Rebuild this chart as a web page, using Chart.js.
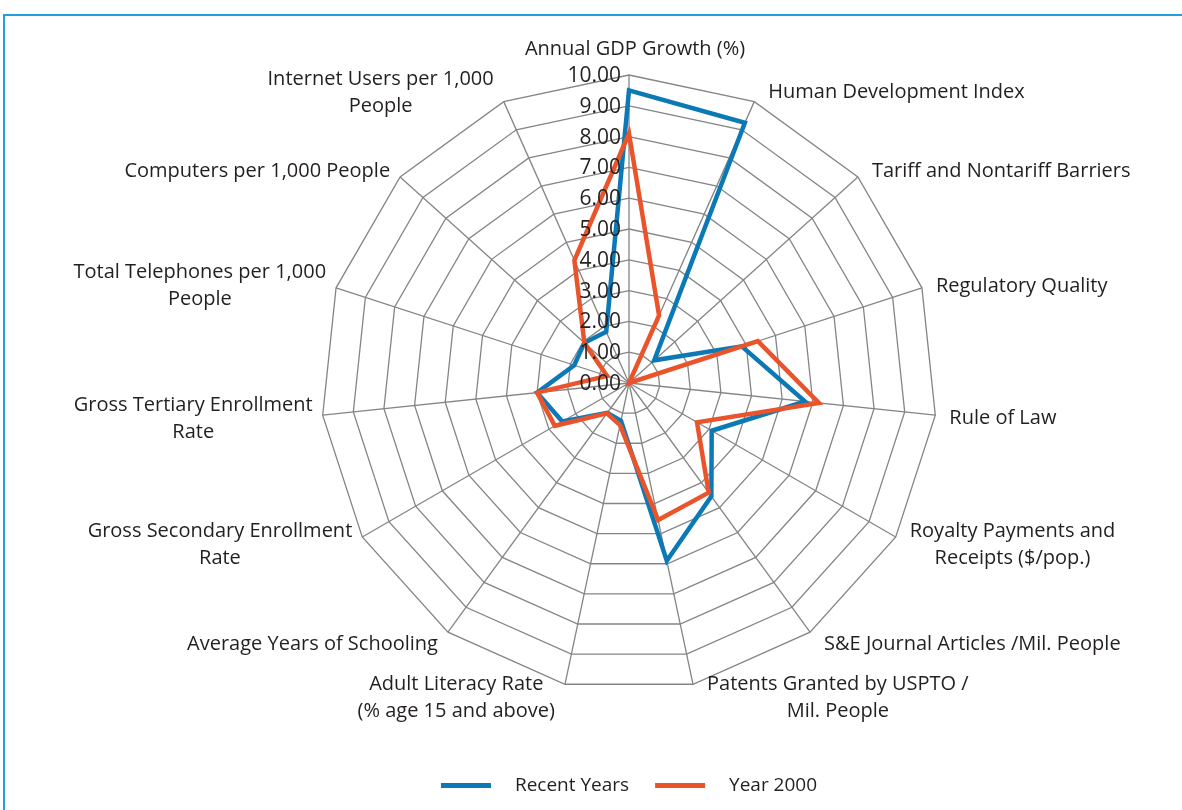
<!DOCTYPE html>
<html>
<head>
<meta charset="utf-8">
<script src="https://cdn.jsdelivr.net/npm/chart.js@4.4.0/dist/chart.umd.min.js"></script>
<style>
  html, body { margin: 0; padding: 0; background: #fff; overflow: hidden; }
  #wrap { position: relative; width: 1182px; height: 810px; }
  #frame { position: absolute; left: 3px; top: 14px; width: 1200px; height: 820px;
           border-top: 2px solid #22a0d8; border-left: 2px solid #22a0d8; }
  canvas { position: absolute; left: 0; top: 0; }
</style>
</head>
<body>
<div id="wrap">
  <div id="frame"></div>
  <canvas id="chart" width="1182" height="810"></canvas>
</div>
<script>
const categories = [
  'Annual GDP Growth (%)',
  'Human Development Index',
  'Tariff and Nontariff Barriers',
  'Regulatory Quality',
  'Rule of Law',
  ['Royalty Payments and', 'Receipts ($/pop.)'],
  'S&E Journal Articles /Mil. People',
  ['Patents Granted by USPTO /', 'Mil. People'],
  ['Adult Literacy Rate', '(% age 15 and above)'],
  'Average Years of Schooling',
  ['Gross Secondary Enrollment', 'Rate'],
  ['Gross Tertiary Enrollment', 'Rate'],
  ['Total Telephones per 1,000', 'People'],
  'Computers per 1,000 People',
  ['Internet Users per 1,000', 'People'],
];

const recentYears = [9.5, 9.25, 1.1, 3.85, 5.75, 3.1, 4.55, 5.9, 1.25, 1.2, 2.5, 3.0, 1.87, 1.95, 1.82];
const year2000    = [8.1, 2.4, 0, 4.4, 6.2, 2.55, 4.4, 4.55, 1.4, 1.22, 2.78, 3.0, 0.75, 1.95, 4.36];

const seriesNames = ['Recent Years', 'Year 2000'];
const BLUE = '#0b79b5';
const ORANGE = '#e9542b';
const TEXT = '#231f20';
const FONT = '"Open Sans", sans-serif';

// tick labels sit left of the vertical axis, on top of the lines (like Excel)
const tickLabels = {
  id: 'tickLabels',
  afterDatasetsDraw(chart) {
    const r = chart.scales.r;
    const ctx = chart.ctx;
    ctx.save();
    ctx.font = '21px ' + FONT;
    ctx.fillStyle = TEXT;
    ctx.textAlign = 'right';
    ctx.textBaseline = 'middle';
    r.ticks.forEach(t => {
      const y = r.yCenter - r.getDistanceFromCenterForValue(t.value);
      ctx.fillText(t.value.toFixed(2), r.xCenter - 8, y + 1);
    });
    ctx.restore();
  }
};

// category labels around the web
const axisLabels = {
  id: 'axisLabels',
  afterDatasetsDraw(chart) {
    const r = chart.scales.r;
    const ctx = chart.ctx;
    const lh = 27;
    ctx.save();
    ctx.font = '20px ' + FONT;
    ctx.fillStyle = TEXT;
    ctx.textAlign = 'center';
    ctx.textBaseline = 'middle';
    categories.forEach((lab, i) => {
      const lines = Array.isArray(lab) ? lab : [lab];
      const a = i * 2 * Math.PI / categories.length;
      const s = Math.sin(a), c = Math.cos(a);
      const p = r.getPointPosition(i, r.drawingArea);
      const w = Math.max(...lines.map(l => ctx.measureText(l).width));
      const h = lines.length * lh;
      let cx, cy;
      if (Math.abs(s) < 0.1) {
        cx = p.x + 6;
        cy = p.y - 26;
      } else {
        cx = s > 0 ? p.x + 14 + w / 2 : p.x - 10 - w / 2;
        cy = p.y - 12 * c + 2;
      }
      lines.forEach((l, k) => {
        ctx.fillText(l, cx, cy - h / 2 + lh / 2 + k * lh);
      });
    });
    ctx.restore();
  }
};

new Chart(document.getElementById('chart'), {
  type: 'radar',
  data: {
    labels: categories,
    datasets: [
      {
        label: seriesNames[0],
        data: recentYears,
        borderColor: BLUE,
        backgroundColor: BLUE,
        borderWidth: 4.5,
        fill: false,
        order: 2,
      },
      {
        label: seriesNames[1],
        data: year2000,
        borderColor: ORANGE,
        backgroundColor: ORANGE,
        borderWidth: 4.5,
        fill: false,
        order: 1,
      },
    ],
  },
  options: {
    responsive: false,
    animation: false,
    layout: { padding: { left: 321, right: 245, top: 16, bottom: 5 } },
    elements: {
      line: { tension: 0, borderJoinStyle: 'miter' },
      point: { radius: 0, hoverRadius: 0 },
    },
    scales: {
      r: {
        min: 0,
        max: 10,
        ticks: { stepSize: 1, display: false },
        grid: { color: '#858585', lineWidth: 1.3 },
        angleLines: { color: '#858585', lineWidth: 1.3 },
        pointLabels: { display: false },
      },
    },
    plugins: {
      tooltip: { enabled: false },
      legend: {
        position: 'bottom',
        labels: {
          boxWidth: 50,
          boxHeight: 5,
          padding: 26,
          color: TEXT,
          font: { family: FONT, size: 19 },
          sort: (a, b) => a.datasetIndex - b.datasetIndex,
          generateLabels: chart =>
            Chart.defaults.plugins.legend.labels.generateLabels(chart)
              .map(l => ({ ...l, lineWidth: 0, text: '\u2002 ' + l.text })),
        },
      },
    },
  },
  plugins: [tickLabels, axisLabels],
});
</script>
</body>
</html>
